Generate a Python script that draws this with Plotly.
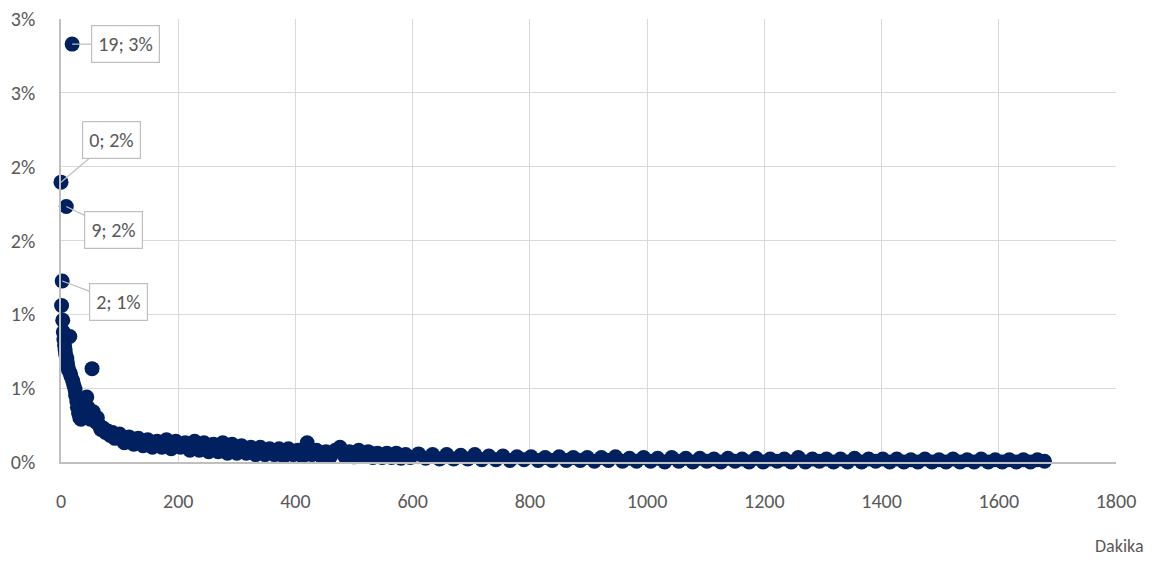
import plotly.graph_objects as go

# ---- data (minutes vs share) ----
dakika = [
    0, 1, 2, 3, 4, 5, 6, 7, 8, 9, 10, 11, 12, 13, 15, 16, 17, 19, 20, 22,
    24, 25, 27, 28, 30, 32, 34, 36, 38, 40, 42, 44, 46, 48, 50, 53, 55, 57, 60, 62,
    65, 68, 72, 76, 80, 84, 88, 92, 96,
    100, 108, 116, 124, 132, 140, 148, 156, 164, 172, 180, 188, 196, 204, 212, 220,
    228, 236, 244, 252, 260, 268, 276, 284, 292, 300,
    308, 316, 324, 332, 340, 348, 356, 364, 372, 380, 388, 396, 404, 412, 420, 428,
    436, 444, 452, 460, 468, 476, 484, 492, 500, 508, 516, 524, 532, 540, 548, 556,
    564, 572, 580, 588, 596,
    610, 622, 634, 646, 658, 670, 682, 694, 706, 718, 730, 742, 754, 766, 778, 790,
    802, 814, 826, 838, 850, 862, 874, 886, 898, 910, 922, 934, 946, 958, 970, 982,
    994, 1006, 1018, 1030, 1042, 1054, 1066, 1078, 1090, 1102, 1114, 1126, 1138, 1150,
    1162, 1174, 1186, 1198, 1210, 1222, 1234, 1246, 1258, 1270, 1282, 1294, 1306, 1318,
    1330, 1342, 1354, 1366, 1378, 1390, 1402, 1414, 1426, 1438, 1450, 1462, 1474, 1486,
    1498, 1510, 1522, 1534, 1546, 1558, 1570, 1582, 1594, 1606, 1618, 1630, 1642, 1654,
    1666, 1678,
]
oran = [
    1.895, 1.06, 1.226, 0.96, 0.88, 0.83, 0.79, 0.76, 0.73, 1.73, 0.70, 0.67, 0.64, 0.62, 0.85, 0.60, 0.58, 2.83, 0.55, 0.52,
    0.49, 0.45, 0.41, 0.37, 0.33, 0.30, 0.29, 0.31, 0.34, 0.31, 0.36, 0.44, 0.37, 0.31, 0.29, 0.632, 0.34, 0.30, 0.27, 0.30,
    0.25, 0.22, 0.23, 0.20, 0.21, 0.18, 0.20, 0.16, 0.18,
    0.19, 0.13, 0.17, 0.12, 0.16, 0.11, 0.15, 0.10, 0.14, 0.10, 0.15, 0.09, 0.14, 0.10, 0.13, 0.08,
    0.14, 0.08, 0.13, 0.07, 0.12, 0.07, 0.13, 0.06, 0.12, 0.06,
    0.11, 0.06, 0.10, 0.05, 0.10, 0.05, 0.09, 0.05, 0.09, 0.04, 0.09, 0.05, 0.08, 0.04, 0.13, 0.05,
    0.08, 0.04, 0.07, 0.04, 0.08, 0.10, 0.04, 0.07, 0.035, 0.08, 0.04, 0.07, 0.03, 0.06, 0.03, 0.06,
    0.03, 0.06, 0.025, 0.05, 0.03,
    0.055, 0.025, 0.05, 0.02, 0.05, 0.02, 0.045, 0.02, 0.05, 0.015, 0.04, 0.015, 0.04, 0.01, 0.035, 0.015,
    0.035, 0.01, 0.03, 0.01, 0.035, 0.01, 0.03, 0.01, 0.03, 0.005, 0.03, 0.01, 0.035, 0.005, 0.025, 0.005,
    0.03, 0.005, 0.025, 0.0, 0.03, 0.005, 0.025, 0.0, 0.025, 0.005, 0.02, 0.0, 0.025, 0.005,
    0.02, 0.0, 0.025, 0.0, 0.02, 0.005, 0.02, 0.0, 0.03, 0.0, 0.02, 0.005, 0.02, 0.0,
    0.02, 0.0, 0.025, 0.0, 0.02, 0.005, 0.02, 0.0, 0.02, 0.0, 0.015, 0.0, 0.02, 0.0,
    0.015, 0.0, 0.02, 0.0, 0.015, 0.0, 0.02, 0.0, 0.015, 0.0, 0.015, 0.0, 0.015, 0.0,
    0.015, 0.005,
]

# labelled points: (minute, label offset x, label offset y in px)
etiketler = [(19, 53, 0), (0, 50, -42), (9, 47, 23), (2, 56, 21)]

y_tickvals = [0, 0.5, 1.0, 1.5, 2.0, 2.5, 3.0]
y_ticktext = ["0%", "1%", "1%", "2%", "2%", "3%", "3%"]
x_tickvals = [0, 200, 400, 600, 800, 1000, 1200, 1400, 1600, 1800]

FONT = "Calibri, Carlito, Lato, sans-serif"
TEXT_COLOR = "#595959"

fig = go.Figure()
fig.add_trace(go.Scatter(
    x=dakika, y=oran,
    mode="markers",
    marker=dict(size=15, color="#002060"),
    cliponaxis=False,
    showlegend=False,
))

# callout labels
for xv, ax, ay in etiketler:
    yv = oran[dakika.index(xv)]
    fig.add_annotation(
        x=xv, y=yv, text=f"{xv}; {round(yv)}%",
        showarrow=True, arrowhead=0, arrowwidth=1.2, arrowcolor="#bfbfbf",
        ax=ax, ay=ay, standoff=0,
        bordercolor="#bfbfbf", borderwidth=1.2, borderpad=6, bgcolor="white",
        font=dict(family=FONT, size=20, color=TEXT_COLOR),
    )

fig.add_annotation(
    text="Dakika", xref="paper", yref="paper", x=1.003, y=-0.19,
    xanchor="center", yanchor="middle", showarrow=False,
    font=dict(family=FONT, size=18, color=TEXT_COLOR),
)

fig.update_xaxes(
    range=[0, 1800], tickvals=x_tickvals, automargin=False,
    showgrid=True, gridcolor="#d9d9d9", gridwidth=1.3,
    showline=True, linecolor="#bfbfbf", linewidth=1.5,
    zeroline=False, ticks="", ticklabelstandoff=20, ticklabeloverflow="allow",
    tickfont=dict(family=FONT, size=20, color=TEXT_COLOR),
)
fig.update_yaxes(
    range=[0, 3.0], tickvals=y_tickvals, ticktext=y_ticktext, automargin=False,
    showgrid=True, gridcolor="#d9d9d9", gridwidth=1.3,
    showline=True, linecolor="#bfbfbf", linewidth=1.5,
    zeroline=False, ticks="", ticklabelstandoff=20, ticklabeloverflow="allow",
    tickfont=dict(family=FONT, size=20, color=TEXT_COLOR),
)

# page body has an 8px margin, so the figure sits at (8, 8)
fig.update_layout(
    margin=dict(l=53, r=39, t=11, b=95),
    paper_bgcolor="white", plot_bgcolor="white",
    font=dict(family=FONT, color=TEXT_COLOR),
)

fig.write_html("out.html")
